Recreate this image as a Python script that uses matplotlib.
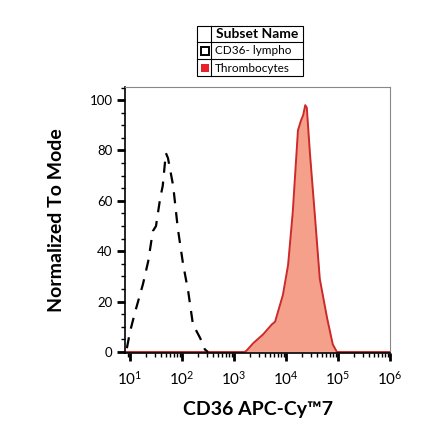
import numpy as np
import matplotlib
matplotlib.use('Agg')
import matplotlib.pyplot as plt
from matplotlib.ticker import FixedLocator, NullFormatter, MultipleLocator
from matplotlib.patches import Rectangle

plt.rcParams['font.family'] = ['Lato', 'DejaVu Sans']
plt.rcParams['mathtext.fontset'] = 'custom'
plt.rcParams['mathtext.rm'] = 'Lato'
plt.rcParams['mathtext.it'] = 'Lato'

# --- data (x as log10 of CD36 APC-Cy7 intensity) ---
lympho_logx = [0.94, 1.00, 1.10, 1.25, 1.35, 1.44, 1.50, 1.58, 1.63, 1.69,
               1.73, 1.83, 1.92, 2.02, 2.12, 2.21, 2.35, 2.44, 2.50]
lympho_y = [1.5, 8, 16, 27, 36, 48, 50, 61, 66, 79,
            77, 66, 49, 35, 24, 11, 5.5, 1, 0]

thrombo_logx = [0.90, 3.20, 3.24, 3.37, 3.56, 3.73, 3.79, 3.94, 4.04, 4.13,
                4.23, 4.29, 4.33, 4.37, 4.40, 4.46, 4.56, 4.65, 4.79, 4.90,
                4.98, 5.02, 6.00]
thrombo_y = [0, 0, 0.5, 3.5, 7, 11, 12, 22.6, 34.5, 55.5,
             88, 92, 94, 98, 97, 79, 53, 29, 13.5, 3,
             0, 0, 0]

subsets = ['CD36- lympho', 'Thrombocytes']
x_decades = [1, 2, 3, 4, 5, 6]

fill_col = '#f5a08a'
line_col = '#cc2a2a'

fig = plt.figure(figsize=(4.4, 4.41), dpi=100)
ax = fig.add_axes([125 / 440, 1 - 353 / 441, 265 / 440, 266 / 441])

tx = 10 ** np.array(thrombo_logx)
ax.fill_between(tx, thrombo_y, 0, color=fill_col, linewidth=0)
ax.plot(tx, thrombo_y, color=line_col, linewidth=1.4)

lx = 10 ** np.array(lympho_logx)
ax.plot(lx, lympho_y, color='black', linewidth=1.6, dashes=(5, 4))

ax.set_xscale('log')
ax.set_xlim(10 ** 0.904, 10 ** 6.0)
ax.set_ylim(-0.4, 105.2)

majors = [10.0 ** d for d in x_decades]
ax.xaxis.set_major_locator(FixedLocator(majors))
ax.set_xticklabels([r'$10^{%d}$' % d for d in x_decades])
minors = [m * 10.0 ** d for d in range(0, 6) for m in range(2, 10)]
ax.xaxis.set_minor_locator(FixedLocator(minors))
ax.xaxis.set_minor_formatter(NullFormatter())

ax.yaxis.set_major_locator(MultipleLocator(20))
ax.yaxis.set_minor_locator(MultipleLocator(5))

ax.tick_params(axis='both', which='major', direction='out', length=6, width=2,
               pad=3)
ax.tick_params(axis='y', which='major', labelsize=9.5)
ax.tick_params(axis='x', which='major', labelsize=11, pad=6)
ax.tick_params(axis='both', which='minor', direction='out', length=3, width=1)

for s in ['top', 'right']:
    ax.spines[s].set_color('#888888')
    ax.spines[s].set_linewidth(0.8)
for s in ['left', 'bottom']:
    ax.spines[s].set_linewidth(1.2)

ax.set_ylabel('Normalized To Mode', fontsize=14, fontweight='bold', labelpad=18)
ax.set_xlabel('CD36 APC-Cy\u21227', fontsize=14, fontweight='bold', labelpad=10)

# --- legend drawn as a small table ---
lg = fig.add_axes([197 / 440, 1 - 76 / 441, 106 / 440, 50 / 441])
lg.set_xlim(0, 106)
lg.set_ylim(50, 0)
lg.axis('off')
lg.add_patch(Rectangle((0, 0), 106, 50, fill=False, edgecolor='black',
                       linewidth=0.8, clip_on=False))
for yy in [16, 33]:
    lg.plot([0, 106], [yy, yy], color='black', linewidth=0.8, clip_on=False)
lg.plot([14, 14], [0, 50], color='black', linewidth=0.8, clip_on=False)
lg.text(19, 8.5, 'Subset Name', fontsize=10, fontweight='bold', va='center', ha='left')
lg.add_patch(Rectangle((3.5, 21), 8, 8, fill=False, edgecolor='black', linewidth=1.4))
lg.add_patch(Rectangle((3.5, 38), 8, 8, facecolor='#e8222a', edgecolor='none'))
lg.text(18, 25, subsets[0], fontsize=8.5, va='center', ha='left')
lg.text(18, 42, subsets[1], fontsize=8.5, va='center', ha='left')

fig.savefig('out.png', dpi=100)
